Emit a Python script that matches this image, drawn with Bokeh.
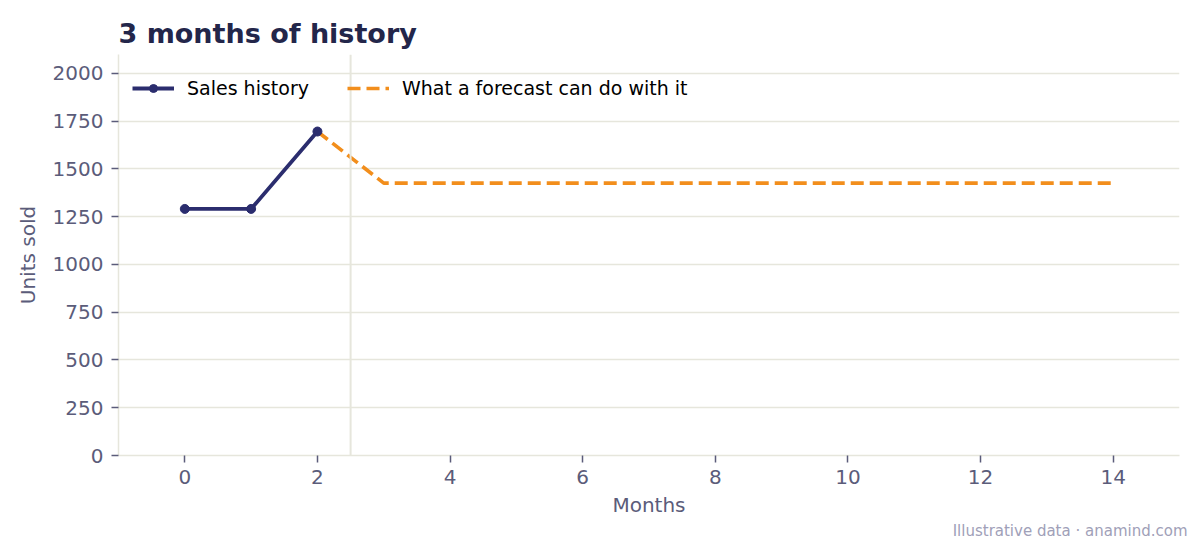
from bokeh.plotting import figure
from bokeh.models import (ColumnDataSource, FixedTicker, Legend, LegendItem,
                          Span, Title, Range1d)
from bokeh.embed import file_html
from bokeh.resources import INLINE

# data
hist_month = [0, 1, 2]
hist_units = [1290, 1290, 1695]
fc_month = [2, 3, 4, 5, 6, 7, 8, 9, 10, 11, 12, 13, 14]
fc_units = [1695, 1425, 1425, 1425, 1425, 1425, 1425, 1425, 1425, 1425, 1425, 1425, 1425]
y_ticks = [0, 250, 500, 750, 1000, 1250, 1500, 1750, 2000]
x_ticks = [0, 2, 4, 6, 8, 10, 12, 14]
split_at = 2.5

NAVY = "#2b2d6e"
ORANGE = "#f28e1c"
GRID = "#e6e6dc"
TXT = "#5b5c7a"
FONT = "DejaVu Sans"

p = figure(width=1200, height=540, output_backend="svg", toolbar_location=None,
           x_range=Range1d(-1, 15), y_range=Range1d(0, 2098),
           min_border_left=118, min_border_right=21, min_border_top=54,
           min_border_bottom=85)
p.outline_line_color = None
p.background_fill_color = "white"

p.title.text = "3 months of history"
p.title.text_font = FONT
p.title.text_font_size = "27px"
p.title.text_font_style = "bold"
p.title.text_color = "#23264a"
p.title.offset = 0
p.title.standoff = 11

foot = Title(text="Illustrative data · anamind.com", align="right",
             text_font=FONT, text_font_size="15px", text_font_style="normal",
             text_color="#a0a0b8", offset=-8, standoff=0)
p.add_layout(foot, "below")

hist_src = ColumnDataSource(dict(x=hist_month, y=hist_units))
fc_src = ColumnDataSource(dict(x=fc_month, y=fc_units))

p.add_layout(Span(location=split_at, dimension="height", line_color=GRID, line_width=2))

r_fc = p.line("x", "y", source=fc_src, line_color=ORANGE, line_width=3.6, line_dash="13 6")
r_hl = p.line("x", "y", source=hist_src, line_color=NAVY, line_width=3.8)
r_hc = p.scatter("x", "y", source=hist_src, size=9, fill_color=NAVY, line_color=NAVY)

legend = Legend(items=[LegendItem(label="Sales history", renderers=[r_hl, r_hc]),
                       LegendItem(label="What a forecast can do with it", renderers=[r_fc])],
                location=(14, 356), orientation="horizontal",
                border_line_color=None, background_fill_alpha=0,
                label_text_font=FONT, label_text_font_size="19px", label_text_color="black",
                glyph_width=42, label_standoff=13, spacing=38, margin=0, padding=5)
p.add_layout(legend)

p.xgrid.grid_line_color = None
p.ygrid.grid_line_color = GRID
p.ygrid.grid_line_width = 1.5

p.yaxis.ticker = FixedTicker(ticks=y_ticks)
p.xaxis.ticker = FixedTicker(ticks=x_ticks)
p.xaxis.axis_label = "Months"
p.yaxis.axis_label = "Units sold"
for ax in (p.xaxis, p.yaxis):
    ax.axis_line_color = GRID
    ax.axis_line_width = 1.5
    ax.major_tick_line_color = TXT
    ax.major_tick_line_width = 1.5
    ax.major_tick_out = 7
    ax.major_tick_in = 0
    ax.minor_tick_line_color = None
    ax.major_label_text_font = FONT
    ax.major_label_text_font_size = "20px"
    ax.major_label_text_color = TXT
    ax.axis_label_text_font = FONT
    ax.axis_label_text_font_size = "20px"
    ax.axis_label_text_font_style = "normal"
    ax.axis_label_text_color = TXT
p.xaxis.major_label_standoff = 7
p.xaxis.axis_label_standoff = 6
p.yaxis.major_label_standoff = 8
p.yaxis.axis_label_standoff = 10

open("out.html", "w").write(file_html(p, INLINE))
